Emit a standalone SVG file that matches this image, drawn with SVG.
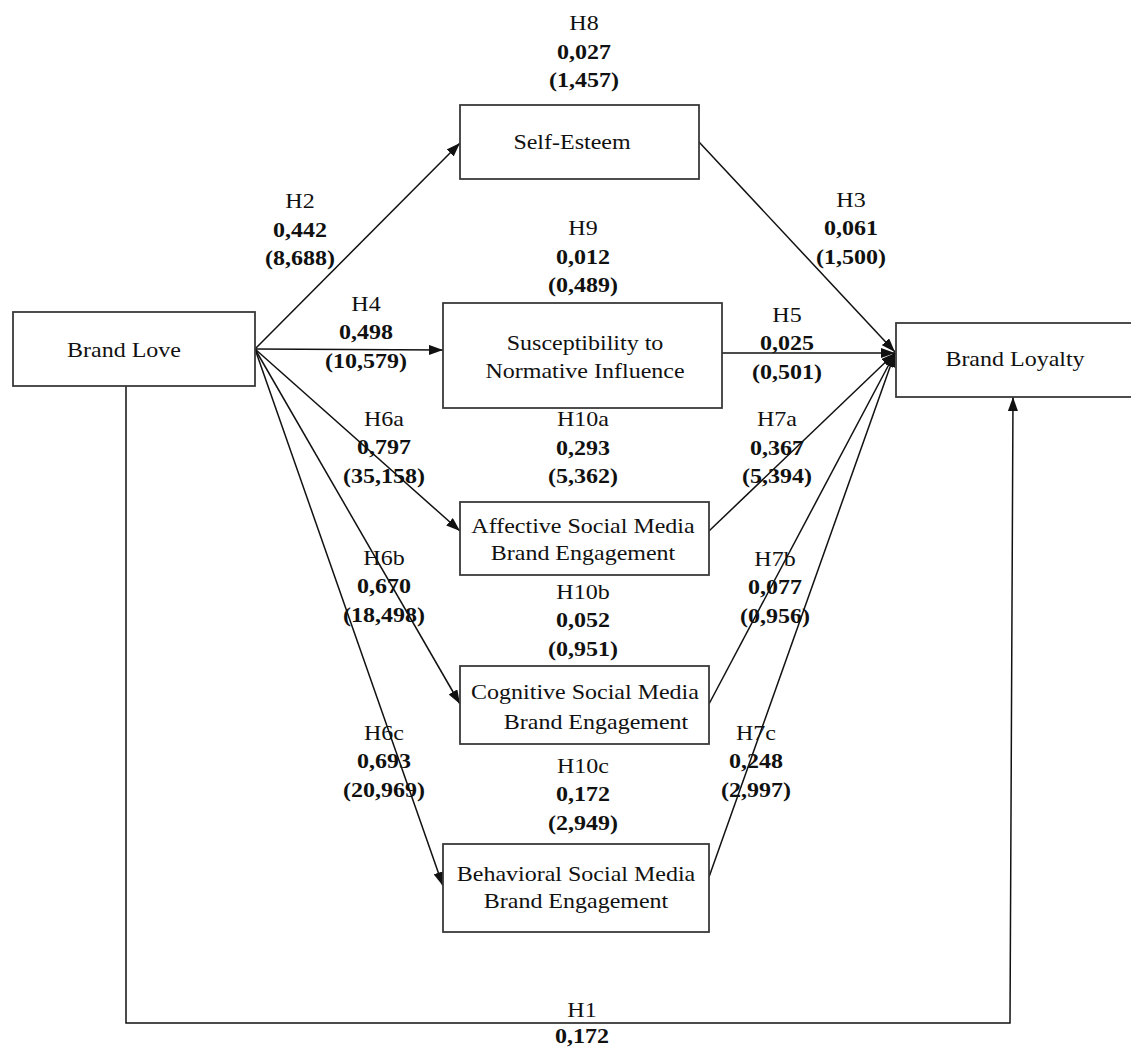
<svg xmlns="http://www.w3.org/2000/svg" width="1131" height="1052" viewBox="0 0 1131 1052">
<style>
  .node rect { fill:#ffffff; stroke:#3a3a3a; stroke-width:1.8; }
  text { font-family:"Liberation Serif","Times New Roman",serif; font-size:20px; fill:#111111; text-anchor:middle; }
  .v { font-weight:bold; }
  .edge { stroke:#111111; stroke-width:1.5; fill:none; marker-end:url(#arr); }
  .plain { stroke:#111111; stroke-width:1.5; fill:none; }
</style>
<defs>
  <marker id="arr" markerUnits="userSpaceOnUse" markerWidth="14" markerHeight="10" refX="14" refY="5" orient="auto">
    <path d="M0,0 L14,5 L0,10 z" fill="#111111"/>
  </marker>
</defs>
<rect x="0" y="0" width="1131" height="1052" fill="#ffffff"/>

<g id="connectors">
  <line class="edge" x1="255" y1="349" x2="460" y2="143"/>
  <line class="edge" x1="255" y1="349" x2="443" y2="350"/>
  <line class="edge" x1="255" y1="349" x2="460" y2="531"/>
  <line class="edge" x1="255" y1="349" x2="460" y2="704"/>
  <line class="edge" x1="255" y1="349" x2="443" y2="886"/>
  <line class="edge" x1="699" y1="142" x2="895" y2="352"/>
  <line class="edge" x1="722" y1="353" x2="895" y2="353"/>
  <line class="edge" x1="709" y1="531" x2="895" y2="353"/>
  <line class="edge" x1="709" y1="704" x2="895" y2="353"/>
  <line class="edge" x1="709" y1="877" x2="895" y2="353"/>
  <polyline class="edge" points="126,386 126,1023 1010,1023 1013,397"/>
</g>

<g id="node-brand-love" class="node">
  <rect x="13" y="312" width="242" height="74"/>
  <g transform="translate(124,0) scale(1.2,1)"><text x="0" y="357">Brand Love</text></g>
</g>
<g id="node-self-esteem" class="node">
  <rect x="460" y="105" width="239" height="74"/>
  <g transform="translate(572,0) scale(1.2,1)"><text x="0" y="149">Self-Esteem</text></g>
</g>
<g id="node-susceptibility" class="node">
  <rect x="443" y="303" width="279" height="105"/>
  <g transform="translate(585,0) scale(1.2,1)"><text x="0" y="350">Susceptibility to</text><text x="0" y="378">Normative Influence</text></g>
</g>
<g id="node-brand-loyalty" class="node">
  <rect x="896" y="323" width="245" height="74"/>
  <g transform="translate(1015,0) scale(1.2,1)"><text x="0" y="366">Brand Loyalty</text></g>
</g>
<g id="node-affective" class="node">
  <rect x="460" y="502" width="249" height="73"/>
  <g transform="translate(583,0) scale(1.2,1)"><text x="0" y="533">Affective Social Media</text><text x="0" y="560">Brand Engagement</text></g>
</g>
<g id="node-cognitive" class="node">
  <rect x="460" y="666" width="249" height="78"/>
  <g transform="translate(585,0) scale(1.2,1)"><text x="0" y="699">Cognitive Social Media</text></g>
  <g transform="translate(596,0) scale(1.2,1)"><text x="0" y="729">Brand Engagement</text></g>
</g>
<g id="node-behavioral" class="node">
  <rect x="443" y="844" width="266" height="88"/>
  <g transform="translate(576,0) scale(1.2,1)"><text x="0" y="881">Behavioral Social Media</text><text x="0" y="908">Brand Engagement</text></g>
</g>

<g id="labels">
  <g transform="translate(584,0) scale(1.2,1)"><text y="30.5">H8</text><text class="v" y="59">0,027</text><text class="v" y="87.5">(1,457)</text></g>
  <g transform="translate(300,0) scale(1.2,1)"><text y="208.5">H2</text><text class="v" y="237">0,442</text><text class="v" y="265.5">(8,688)</text></g>
  <g transform="translate(583,0) scale(1.2,1)"><text y="235.5">H9</text><text class="v" y="264">0,012</text><text class="v" y="292.5">(0,489)</text></g>
  <g transform="translate(851,0) scale(1.2,1)"><text y="207">H3</text><text class="v" y="235.5">0,061</text><text class="v" y="264">(1,500)</text></g>
  <g transform="translate(366,0) scale(1.2,1)"><text y="311">H4</text><text class="v" y="339.5">0,498</text><text class="v" y="368">(10,579)</text></g>
  <g transform="translate(787,0) scale(1.2,1)"><text y="322">H5</text><text class="v" y="350.5">0,025</text><text class="v" y="379">(0,501)</text></g>
  <g transform="translate(384,0) scale(1.2,1)"><text y="426">H6a</text><text class="v" y="454.5">0,797</text><text class="v" y="483">(35,158)</text></g>
  <g transform="translate(583,0) scale(1.2,1)"><text y="426.5">H10a</text><text class="v" y="455">0,293</text><text class="v" y="483.5">(5,362)</text></g>
  <g transform="translate(777,0) scale(1.2,1)"><text y="426.5">H7a</text><text class="v" y="455">0,367</text><text class="v" y="483.5">(5,394)</text></g>
  <g transform="translate(384,0) scale(1.2,1)"><text y="565">H6b</text><text class="v" y="593.5">0,670</text><text class="v" y="622">(18,498)</text></g>
  <g transform="translate(775,0) scale(1.2,1)"><text y="566">H7b</text><text class="v" y="594.5">0,077</text><text class="v" y="623">(0,956)</text></g>
  <g transform="translate(583,0) scale(1.2,1)"><text y="599">H10b</text><text class="v" y="627.5">0,052</text><text class="v" y="656">(0,951)</text></g>
  <g transform="translate(384,0) scale(1.2,1)"><text y="740">H6c</text><text class="v" y="768.5">0,693</text><text class="v" y="797">(20,969)</text></g>
  <g transform="translate(756,0) scale(1.2,1)"><text y="740">H7c</text><text class="v" y="768.5">0,248</text><text class="v" y="797">(2,997)</text></g>
  <g transform="translate(583,0) scale(1.2,1)"><text y="773">H10c</text><text class="v" y="801.5">0,172</text><text class="v" y="830">(2,949)</text></g>
  <g transform="translate(582,0) scale(1.2,1)"><text y="1017">H1</text><text class="v" y="1043">0,172</text></g>
</g>
</svg>
